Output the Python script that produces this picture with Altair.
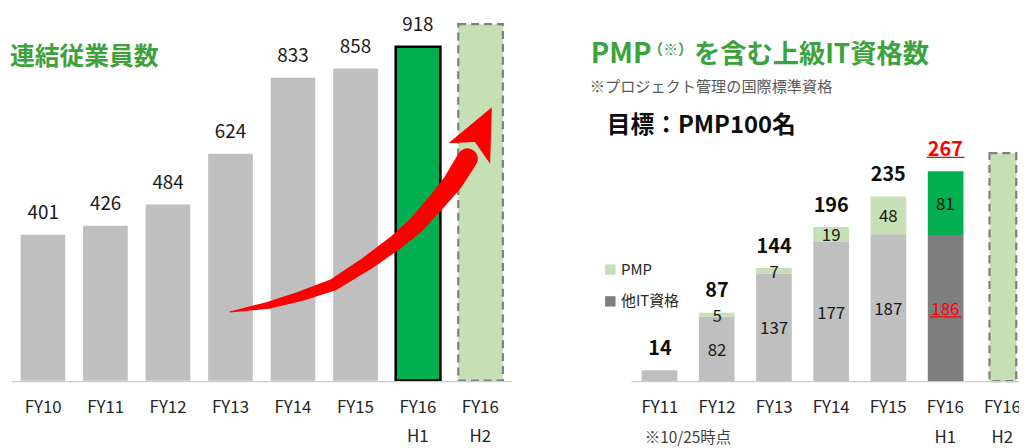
import altair as alt
import pandas as pd

FONT = "Noto Sans CJK JP"
TITLE_GREEN = "#3ca23c"
GRAY_BAR = "#bfbfbf"
DARK_GRAY = "#7f7f7f"
LIGHT_GREEN = "#c5e0b4"
BRIGHT_GREEN = "#00b050"
RED = "#ff0000"
TXT = "#1a1a1a"

# ---------------- data ----------------
emp_title = ["連結従業員数"]
emp_cats = ["FY10", "FY11", "FY12", "FY13", "FY14", "FY15", "FY16\nH1", "FY16\nH2"]
emp_values = [401, 426, 484, 624, 833, 858, 918, 980]      # FY16 H2 = dashed target bar
emp_labels = ["401", "426", "484", "624", "833", "858", "918", ""]
emp_kind = ["past", "past", "past", "past", "past", "past", "h1", "h2"]

# growth arrow centre line (x in category-index units, y in employee units)
arrow_x = [2.99, 3.60, 4.12, 4.65, 5.18, 5.66, 5.97, 6.32, 6.56, 6.79]
arrow_y = [189, 207, 232, 264, 322, 382, 428, 496, 546, 610]
arrow_head_x = [7.0]
arrow_head_y = [688]

cert_title_a = ["PMP"]
cert_title_b = ["（※）"]
cert_title_c = ["を含む上級IT資格数"]
cert_note = ["※プロジェクト管理の国際標準資格"]
cert_goal = ["目標：PMP100名"]
cert_date_note = ["※10/25時点"]
cert_cats = ["FY11", "FY12", "FY13", "FY14", "FY15", "FY16\nH1", "FY16\nH2"]
cert_other = [14, 82, 137, 177, 187, 186]
cert_pmp = [0, 5, 7, 19, 48, 81]
cert_kind = ["past", "past", "past", "past", "past", "h1"]
cert_h2_target = [290]
legend_labels = ["PMP", "他IT資格"]

# ---------------- layout (px) ----------------
LW, RW, H = 572, 448, 440
L_XR, L_PI, L_PO = [4, 508], 0.286, 0.138
L_YR = [374, 7]
R_XR, R_PI, R_PO = [57, 460], 0.3765, 0.178
R_YR = [374.5, 57.3]


def band(cats, rng, pi, po):
    return alt.X("cat:N", scale=alt.Scale(domain=cats, range=rng, paddingInner=pi, paddingOuter=po), axis=None)


def one(texts):
    return pd.DataFrame({"t": texts})


XL = band(emp_cats, L_XR, L_PI, L_PO)
YL_SCALE = alt.Scale(domain=[0, 1000], range=L_YR, nice=False)

# ---------------- left panel ----------------
df_emp = pd.DataFrame({"cat": emp_cats, "value": emp_values, "label": emp_labels, "kind": emp_kind})
base_l = alt.Chart(df_emp)

bars_past = base_l.transform_filter("datum.kind == 'past'").mark_bar(color=GRAY_BAR).encode(
    x=XL, y=alt.Y("value:Q", scale=YL_SCALE, axis=None))
bar_h1 = base_l.transform_filter("datum.kind == 'h1'").mark_bar(
    color=BRIGHT_GREEN, stroke="#000000", strokeWidth=2.6).encode(
    x=XL, y=alt.Y("value:Q", scale=YL_SCALE, axis=None))
bar_h2 = base_l.transform_filter("datum.kind == 'h2'").mark_bar(
    color=LIGHT_GREEN, stroke=DARK_GRAY, strokeWidth=2.2, strokeDash=[8, 5]).encode(
    x=XL, y=alt.Y("value:Q", scale=YL_SCALE, axis=None))
val_text = base_l.transform_filter("datum.label != ''").mark_text(
    font=FONT, fontSize=19, color=TXT, baseline="alphabetic", dy=-16).encode(
    x=XL, y=alt.Y("value:Q", scale=YL_SCALE, axis=None), text="label:N")
xlab_l = base_l.mark_text(font=FONT, fontSize=17, color="#262626", baseline="alphabetic",
                          lineBreak="\n", lineHeight=30).encode(
    x=XL, y=alt.value(406.3), text="cat:N")
axis_l = alt.Chart(one([""])).mark_rule(color="#cccccc", strokeWidth=1.3).encode(
    x=alt.value(L_XR[0]), x2=alt.value(L_XR[1]), y=alt.value(375))

# arrow (category index -> band centres)
step_l = (L_XR[1] - L_XR[0]) / (len(emp_cats) - L_PI + 2 * L_PO)
c0 = L_XR[0] + step_l * (L_PO + (1 - L_PI) / 2)
c7 = c0 + step_l * (len(emp_cats) - 1)
AX = alt.Scale(domain=[0, len(emp_cats) - 1], range=[c0, c7], nice=False, zero=False)
df_arrow = pd.DataFrame({"ax": arrow_x, "ay": arrow_y, "seq": list(range(len(arrow_x)))})
trail = alt.Chart(df_arrow).mark_trail(color=RED).encode(
    x=alt.X("ax:Q", scale=AX, axis=None),
    y=alt.Y("ay:Q", scale=YL_SCALE, axis=None),
    size=alt.Size("seq:Q", scale=alt.Scale(type="sqrt", domain=[0, len(arrow_x) - 1], range=[0, 21]), legend=None),
    order="seq:Q")
head = alt.Chart(pd.DataFrame({"ax": arrow_head_x, "ay": arrow_head_y})).mark_point(
    shape="M0,-1L0.9,1L0,0.5L-0.9,1Z", filled=True, fill=RED, strokeWidth=0,
    size=2700, angle=26, opacity=1).encode(
    x=alt.X("ax:Q", scale=AX, axis=None), y=alt.Y("ay:Q", scale=YL_SCALE, axis=None))

title_l = alt.Chart(one(emp_title)).mark_text(
    font=FONT, fontSize=25, fontWeight="bold", color=TITLE_GREEN, align="left", baseline="middle").encode(
    x=alt.value(2), y=alt.value(47.5), text="t:N")

left = alt.layer(bars_past, bar_h1, bar_h2, axis_l, val_text, xlab_l, trail, head, title_l).resolve_scale(
    x="independent").properties(width=LW, height=H)

# ---------------- right panel ----------------
XR = band(cert_cats, R_XR, R_PI, R_PO)
YR_SCALE = alt.Scale(domain=[0, 400], range=R_YR, nice=False)


def yr(field):
    return alt.Y(field, scale=YR_SCALE, axis=None)


df_cert = pd.DataFrame({"cat": cert_cats[:6], "other": cert_other, "pmp": cert_pmp, "kind": cert_kind})
base_r = alt.Chart(df_cert).transform_calculate(
    total="datum.other + datum.pmp",
    mid_o="datum.other / 2",
    mid_p="datum.other + datum.pmp / 2")

past = base_r.transform_filter("datum.kind == 'past'")
h1 = base_r.transform_filter("datum.kind == 'h1'")

other_past = past.mark_bar(color=GRAY_BAR).encode(x=XR, y=yr("other:Q"))
pmp_past = past.transform_filter("datum.pmp > 0").mark_bar(color=LIGHT_GREEN).encode(
    x=XR, y=yr("other:Q"), y2="total:Q")
other_h1 = h1.mark_bar(color=DARK_GRAY).encode(x=XR, y=yr("other:Q"))
pmp_h1 = h1.mark_bar(color=BRIGHT_GREEN).encode(x=XR, y=yr("other:Q"), y2="total:Q")

df_h2 = pd.DataFrame({"cat": [cert_cats[-1]], "value": cert_h2_target})
bar_h2r = alt.Chart(df_h2).mark_bar(
    color=LIGHT_GREEN, stroke=DARK_GRAY, strokeWidth=2.2, strokeDash=[8, 5], clip=True,
    width=alt.RelativeBandSize(0.75)).encode(x=XR, y=yr("value:Q"))

seg_kw = dict(font=FONT, fontSize=17, baseline="middle", dy=2)
o_lab_past = past.transform_filter("datum.pmp > 0").mark_text(color=TXT, **seg_kw).encode(
    x=XR, y=yr("mid_o:Q"), text="other:Q")
o_lab_h1 = h1.mark_text(color=RED, **seg_kw).encode(x=XR, y=yr("mid_o:Q"), text="other:Q")
p_lab = base_r.transform_filter("datum.pmp > 0").mark_text(color=TXT, **seg_kw).encode(
    x=XR, y=yr("mid_p:Q"), text="pmp:Q")

tot_kw = dict(font=FONT, fontSize=20, fontWeight="bold", baseline="alphabetic", dy=-15.5)
tot_past = past.mark_text(color="#0d0d0d", **tot_kw).encode(x=XR, y=yr("total:Q"), text="total:Q")
tot_h1 = h1.mark_text(color=RED, **tot_kw).encode(x=XR, y=yr("total:Q"), text="total:Q")
ul_tot = h1.mark_rule(color=RED, strokeWidth=1.2, xOffset=-19, x2Offset=19, yOffset=-14).encode(
    x=XR, x2="cat:N", y=yr("total:Q"))
ul_oth = h1.mark_rule(color=RED, strokeWidth=1.2, xOffset=-16, x2Offset=16, yOffset=9).encode(
    x=XR, x2="cat:N", y=yr("mid_o:Q"))

df_cats_r = pd.DataFrame({"cat": cert_cats})
xlab_r = alt.Chart(df_cats_r).mark_text(font=FONT, fontSize=17, color="#262626", baseline="alphabetic",
                                        lineBreak="\n", lineHeight=30, clip=True).encode(
    x=XR, y=alt.value(407), text="cat:N")
date_note = alt.Chart(one(cert_date_note)).mark_text(
    font=FONT, fontSize=15.5, color="#404040", baseline="alphabetic").encode(
    x=alt.value(114), y=alt.value(437), text="t:N")
axis_r = alt.Chart(one([""])).mark_rule(color="#cccccc", strokeWidth=1.3).encode(
    x=alt.value(R_XR[0]), x2=alt.value(RW), y=alt.value(375))

t_kw = dict(font=FONT, fontWeight="bold", color=TITLE_GREEN, align="left", baseline="alphabetic")
title_a = alt.Chart(one(cert_title_a)).mark_text(fontSize=28, **t_kw).encode(
    x=alt.value(16), y=alt.value(54), text="t:N")
title_b = alt.Chart(one(cert_title_b)).mark_text(fontSize=15, **t_kw).encode(
    x=alt.value(74), y=alt.value(45), text="t:N")
title_c = alt.Chart(one(cert_title_c)).mark_text(fontSize=26.5, **t_kw).encode(
    x=alt.value(120), y=alt.value(54), text="t:N")
note = alt.Chart(one(cert_note)).mark_text(
    font=FONT, fontSize=15.3, color="#595959", align="left", baseline="middle").encode(
    x=alt.value(15), y=alt.value(78), text="t:N")
goal = alt.Chart(one(cert_goal)).mark_text(
    font=FONT, fontSize=24, fontWeight="bold", color="#0d0d0d", align="left", baseline="middle").encode(
    x=alt.value(32), y=alt.value(117), text="t:N")

df_leg = pd.DataFrame({"label": legend_labels})
LEG_Y = alt.Y("label:N", scale=alt.Scale(type="point", domain=legend_labels, range=[262, 294], padding=0), axis=None)
leg_sq = alt.Chart(df_leg).mark_square(size=110, opacity=1).encode(
    x=alt.value(35.7), y=LEG_Y,
    color=alt.Color("label:N", scale=alt.Scale(domain=legend_labels, range=[LIGHT_GREEN, DARK_GRAY]), legend=None))
leg_tx = alt.Chart(df_leg).mark_text(font=FONT, fontSize=15, color="#262626", align="left", baseline="middle").encode(
    x=alt.value(46.5), y=LEG_Y, text="label:N")

right = alt.layer(
    other_past, pmp_past, other_h1, pmp_h1, bar_h2r, axis_r,
    o_lab_past, o_lab_h1, p_lab, tot_past, tot_h1, ul_tot, ul_oth,
    xlab_r, date_note, title_a, title_b, title_c, note, goal, leg_sq, leg_tx
).resolve_scale(x="independent", y="independent").properties(width=RW, height=H)

chart = alt.hconcat(left, right, spacing=0).properties(padding=0).configure_view(stroke=None)

chart.save("out.html", embed_options={"renderer": "svg", "actions": False})
